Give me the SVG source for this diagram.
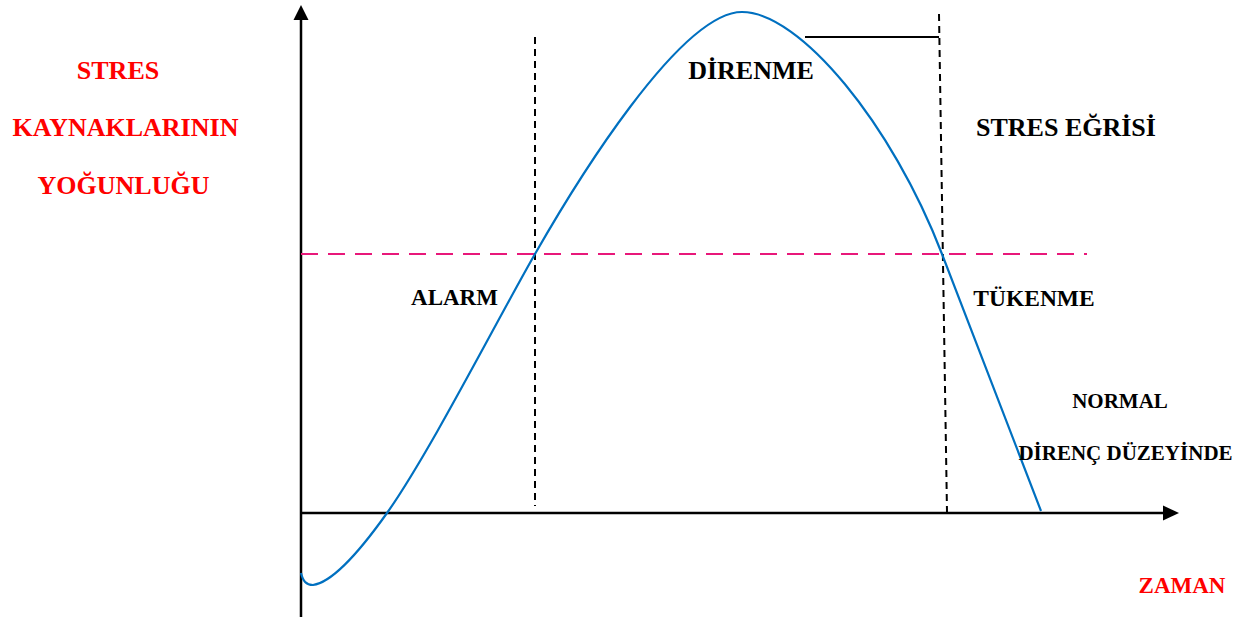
<svg xmlns="http://www.w3.org/2000/svg" width="1250" height="619" viewBox="0 0 1250 619">
<style>
.lbl{font-family:"Liberation Serif","Times New Roman",serif;font-weight:bold;text-anchor:middle}
.red{fill:#ff0000}
.blk{fill:#000000}
.axis{stroke:#000;stroke-width:2.5;fill:none}
.vdash{stroke:#000;stroke-width:2;stroke-dasharray:7 5;fill:none}
</style>
<rect width="1250" height="619" fill="#ffffff"/>
<g id="axes">
<line class="axis" x1="301" y1="617" x2="301" y2="18"/>
<polygon points="301,5 293.5,20 308.5,20" fill="#000"/>
<line class="axis" x1="300" y1="513" x2="1165" y2="513"/>
<polygon points="1179,513 1163,505.5 1163,520.5" fill="#000"/>
</g>
<g id="guides">
<line class="vdash" x1="535" y1="37" x2="535" y2="506"/>
<line class="vdash" x1="939" y1="14" x2="947" y2="512"/>
<line x1="301" y1="254" x2="1087" y2="254" stroke="#e8187a" stroke-width="2" stroke-dasharray="17 10"/>
<line x1="805" y1="37" x2="939" y2="37" stroke="#000" stroke-width="2"/>
</g>
<g id="curve">
<path d="M301,573 C303,581 306,585 313,585 C335,582 365,544 387,513 C430,452 495,324 535,254 C575,184 680,12 742,12 C800,12 892,124 942,254 L1041,511" fill="none" stroke="#0070c0" stroke-width="2.2"/>
</g>
<g id="ylabel">
<text class="lbl red" x="118" y="79" font-size="26">STRES</text>
<text class="lbl red" x="125.5" y="136" font-size="26">KAYNAKLARININ</text>
<text class="lbl red" x="123.5" y="194" font-size="26">YOĞUNLUĞU</text>
</g>
<g id="direnme"><text class="lbl blk" x="751" y="79" font-size="26">DİRENME</text></g>
<g id="stres-egrisi"><text class="lbl blk" x="1066" y="136" font-size="26">STRES EĞRİSİ</text></g>
<g id="alarm"><text class="lbl blk" x="454.5" y="305" font-size="23">ALARM</text></g>
<g id="tukenme"><text class="lbl blk" x="1034" y="306" font-size="23.5">TÜKENME</text></g>
<g id="normal">
<text class="lbl blk" x="1120" y="408" font-size="21">NORMAL</text>
<text class="lbl blk" x="1125.5" y="460" font-size="21">DİRENÇ DÜZEYİNDE</text>
</g>
<g id="zaman"><text class="lbl red" x="1182" y="593" font-size="23">ZAMAN</text></g>
</svg>
